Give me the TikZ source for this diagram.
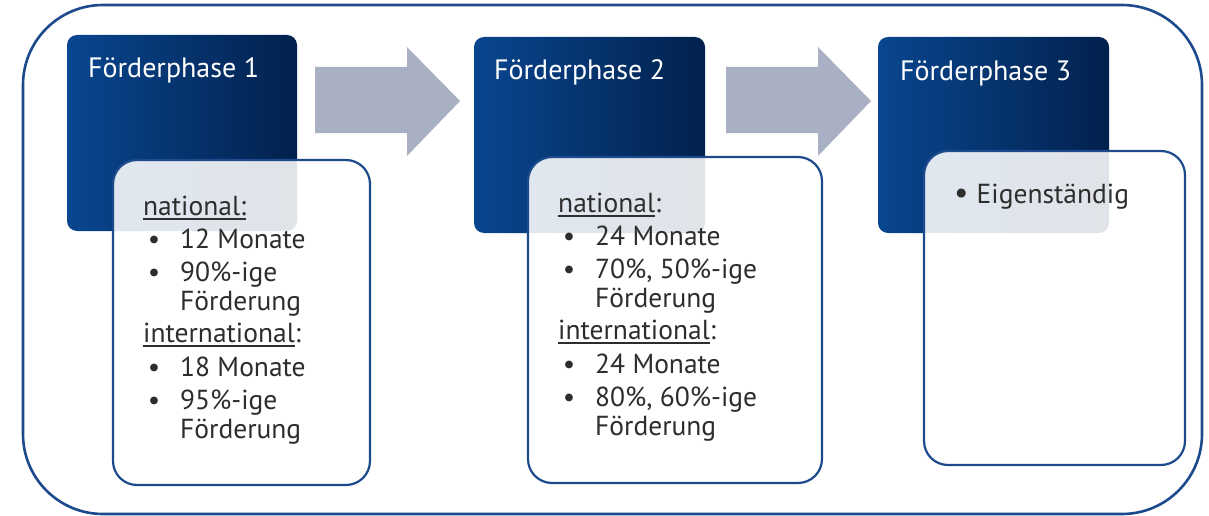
\documentclass[tikz,border=0pt]{standalone}
\usepackage{fontspec}
\setmainfont{PT Sans}
\usetikzlibrary{positioning}

\definecolor{phaseleft}{RGB}{9,70,143}
\definecolor{phaseright}{RGB}{2,33,77}
\definecolor{frameblue}{RGB}{28,74,140}
\definecolor{arrowgrey}{RGB}{170,176,196}
\definecolor{textgrey}{RGB}{45,45,45}

\tikzset{
  phase/.style={rounded corners=10pt, left color=phaseleft, right color=phaseright,
    anchor=north west, inner sep=0pt, outer sep=0pt},
  detail/.style={rounded corners=24pt, draw=frameblue, line width=2.2pt, fill=white,
    fill opacity=0.88, anchor=north west, inner sep=0pt, outer sep=0pt},
  phasetitle/.style={text=white, font=\fontsize{28}{30}\selectfont, anchor=base west, inner sep=0pt},
  detailtext/.style={text=textgrey, font=\fontsize{27.5}{29}\selectfont, align=left,
    anchor=base west, inner sep=0pt},
  blockarrow/.style={fill=arrowgrey},
}
\newcommand{\itm}{\makebox[37pt][l]{\,\textbullet}}
\newcommand{\cont}{\hspace*{37pt}}
\newcommand{\underl}[1]{\setbox0\hbox{#1}\rlap{\rule[-4.5pt]{\wd0}{1.6pt}}\box0}

\begin{document}
\begin{tikzpicture}[x=1pt,y=-1pt]
  \useasboundingbox (0,0) rectangle (1209,516);

  % Frame
  \draw[draw=frameblue,line width=2.6pt,rounded corners=80pt] (23,5) rectangle (1202,514);

  % Block arrows
  \foreach \x in {315,726}
    \fill[blockarrow] (\x,67) -- ++(92,0) -- ++(0,-20) -- ++(53,54) -- ++(-53,55)
      -- ++(0,-23) -- ++(-92,0) -- cycle;

  % Phase boxes
  \node[phase, minimum width=230pt, minimum height=196pt] (phase1) at (67,35) {};
  \node[phase, minimum width=231pt, minimum height=196pt] (phase2) at (474,37) {};
  \node[phase, minimum width=231pt, minimum height=196pt] (phase3) at (878,37) {};

  \node[phasetitle] (title1) at (88,78) {Förderphase 1};
  \node[phasetitle] (title2) at (494,80) {Förderphase 2};
  \node[phasetitle] (title3) at (900,81) {Förderphase 3};

  % Detail boxes
  \node[detail, minimum width=257pt, minimum height=325pt] (detail1) at (113,160) {};
  \node[detail, minimum width=294pt, minimum height=326pt] (detail2) at (528,157) {};
  \node[detail, minimum width=261pt, minimum height=314pt] (detail3) at (924,151) {};

  % Lists (anchored at the last baseline)
  \node[detailtext] (list1) at (143,438) {\underl{national:}\\[4pt]
    \itm 12 Monate\\[4pt]
    \itm 90\%-ige\\
    \cont Förderung\\[3pt]
    \underl{international}:\\[5pt]
    \itm 18 Monate\\[4pt]
    \itm 95\%-ige\\
    \cont Förderung};
  \node[detailtext] (list2) at (558,435) {\underl{national}:\\[4pt]
    \itm 24 Monate\\[4pt]
    \itm 70\%, 50\%-ige\\
    \cont Förderung\\[3pt]
    \underl{international}:\\[5pt]
    \itm 24 Monate\\[4pt]
    \itm 80\%, 60\%-ige\\
    \cont Förderung};
  \node[detailtext] (list3) at (954,203) {{\fontsize{32}{30}\selectfont\textbullet}\hspace{8pt}Eigenständig};
\end{tikzpicture}
\end{document}
